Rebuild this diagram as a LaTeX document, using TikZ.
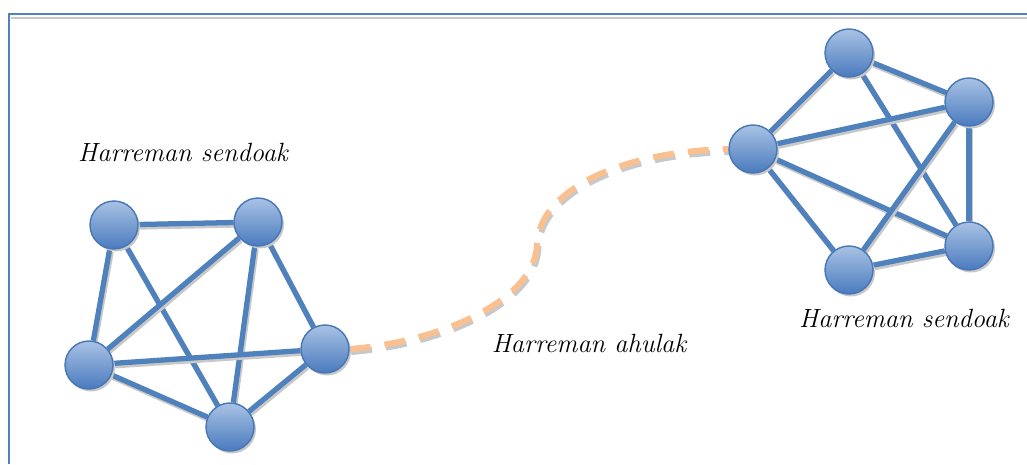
\documentclass[tikz,border=0pt]{standalone}
\usetikzlibrary{shadows,backgrounds}
\definecolor{linkblue}{HTML}{4F81BD}
\definecolor{nodetop}{HTML}{A9C2E4}
\definecolor{nodebottom}{HTML}{4A7BBE}
\definecolor{nodeline}{HTML}{4676B6}
\definecolor{weakorange}{HTML}{FAC090}
\definecolor{shadowgrey}{HTML}{C8C8C8}
\begin{document}
\begin{tikzpicture}[x=0.02cm, y=-0.02cm,
  person/.style={circle, minimum size=0.96cm, inner sep=0pt, draw=nodeline, line width=0.8pt,
    top color=nodetop, bottom color=nodebottom,
    drop shadow={shadow xshift=0.04cm, shadow yshift=-0.05cm, fill=shadowgrey, opacity=1}},
  strong/.style={draw=linkblue, line width=3pt,
    preaction={draw=shadowgrey, line width=3pt, transform canvas={xshift=0.03cm, yshift=-0.05cm}}},
  weak/.style={draw=weakorange, line width=3.4pt, dash pattern=on 0.42cm off 0.28cm,
    preaction={draw=shadowgrey, line width=3.4pt, dash pattern=on 0.42cm off 0.28cm,
      transform canvas={xshift=0.03cm, yshift=-0.06cm}}},
  tag/.style={anchor=base, inner sep=0pt, font=\fontsize{15}{18}\selectfont\itshape}]
\useasboundingbox (0,0) rectangle (1027,464);
\draw[shadowgrey, line width=1.4pt] (11,18) -- (1027,18);
\draw[linkblue, line width=1.6pt] (9,464) -- (9,14) -- (1027,14);
\node[person] (L_1) at (114,225) {};
\node[person] (L_2) at (258,222) {};
\node[person] (L_3) at (325,349) {};
\node[person] (L_4) at (89,365) {};
\node[person] (L_5) at (230,427) {};
\node[person] (R_1) at (753,149) {};
\node[person] (R_2) at (849,53) {};
\node[person] (R_3) at (969,102) {};
\node[person] (R_4) at (969,246) {};
\node[person] (R_5) at (849,270) {};
\node[tag] (T_1) at (183,161) {Harreman sendoak};
\node[tag] (T_2) at (904,327) {Harreman sendoak};
\node[tag] (T_3) at (589,352) {Harreman ahulak};
\begin{scope}[on background layer]
\draw[strong] (L_1) -- (L_2);
\draw[strong] (L_1) -- (L_4);
\draw[strong] (L_1) -- (L_5);
\draw[strong] (L_2) -- (L_4);
\draw[strong] (L_2) -- (L_5);
\draw[strong] (L_2) -- (L_3);
\draw[strong] (L_4) -- (L_3);
\draw[strong] (L_4) -- (L_5);
\draw[strong] (L_5) -- (L_3);
\draw[strong] (R_1) -- (R_2);
\draw[strong] (R_2) -- (R_3);
\draw[strong] (R_2) -- (R_4);
\draw[strong] (R_1) -- (R_3);
\draw[strong] (R_1) -- (R_4);
\draw[strong] (R_1) -- (R_5);
\draw[strong] (R_5) -- (R_3);
\draw[strong] (R_3) -- (R_4);
\draw[strong] (R_5) -- (R_4);
\draw[weak] (L_3.east) .. controls (440,342) and (537,300) .. (537,243)
  .. controls (540,195) and (610,152) .. (R_1.west);
\end{scope}
\end{tikzpicture}
\end{document}
